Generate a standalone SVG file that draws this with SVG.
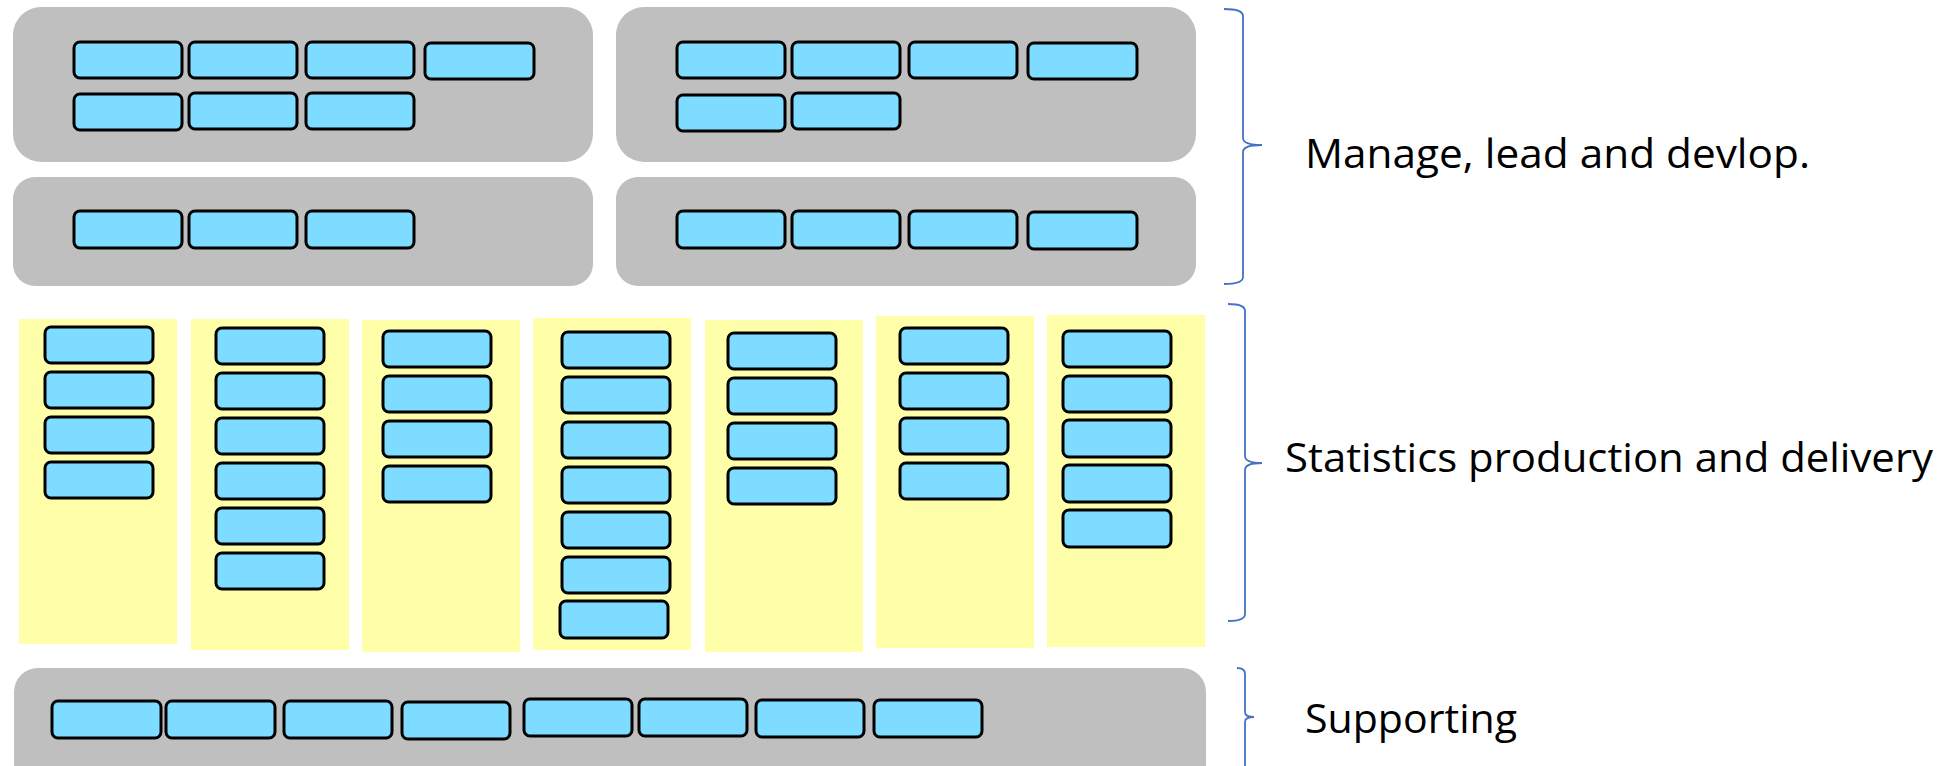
<svg xmlns="http://www.w3.org/2000/svg" width="1960" height="766" viewBox="0 0 1960 766">
<style>
.panel{fill:#BFBFBF}
.col{fill:#FFFFAA}
.box{fill:#7DDCFF;stroke:#000;stroke-width:3}
.brace{fill:none;stroke:#4472C4;stroke-width:1.8}
.lbl{font-family:"Open Sans","Noto Sans",sans-serif;font-size:41px;fill:#000}
</style>
<rect width="1960" height="766" fill="#fff"/>
<g id="panel-top-left">
<rect class="panel" x="13" y="7" width="580" height="155" rx="28"/>
<rect class="box" x="74" y="42" width="108" height="36" rx="6"/>
<rect class="box" x="189" y="42" width="108" height="36" rx="6"/>
<rect class="box" x="306" y="42" width="108" height="36" rx="6"/>
<rect class="box" x="425" y="43" width="109" height="36" rx="6"/>
<rect class="box" x="74" y="94" width="108" height="36" rx="6"/>
<rect class="box" x="189" y="93" width="108" height="36" rx="6"/>
<rect class="box" x="306" y="93" width="108" height="36" rx="6"/>
</g>
<g id="panel-mid-left">
<rect class="panel" x="13" y="177" width="580" height="109" rx="22"/>
<rect class="box" x="74" y="211" width="108" height="37" rx="6"/>
<rect class="box" x="189" y="211" width="108" height="37" rx="6"/>
<rect class="box" x="306" y="211" width="108" height="37" rx="6"/>
</g>
<g id="panel-top-right">
<rect class="panel" x="616" y="7" width="580" height="155" rx="28"/>
<rect class="box" x="677" y="42" width="108" height="36" rx="6"/>
<rect class="box" x="792" y="42" width="108" height="36" rx="6"/>
<rect class="box" x="909" y="42" width="108" height="36" rx="6"/>
<rect class="box" x="1028" y="43" width="109" height="36" rx="6"/>
<rect class="box" x="677" y="95" width="108" height="36" rx="6"/>
<rect class="box" x="792" y="93" width="108" height="36" rx="6"/>
</g>
<g id="panel-mid-right">
<rect class="panel" x="616" y="177" width="580" height="109" rx="22"/>
<rect class="box" x="677" y="211" width="108" height="37" rx="6"/>
<rect class="box" x="792" y="211" width="108" height="37" rx="6"/>
<rect class="box" x="909" y="211" width="108" height="37" rx="6"/>
<rect class="box" x="1028" y="212" width="109" height="37" rx="6"/>
</g>
<g id="col-1">
<rect class="col" x="19" y="319" width="158" height="325"/>
<rect class="box" x="45" y="327" width="108" height="36" rx="6"/>
<rect class="box" x="45" y="372" width="108" height="36" rx="6"/>
<rect class="box" x="45" y="417" width="108" height="36" rx="6"/>
<rect class="box" x="45" y="462" width="108" height="36" rx="6"/>
</g>
<g id="col-2">
<rect class="col" x="191" y="319" width="158" height="331"/>
<rect class="box" x="216" y="328" width="108" height="36" rx="6"/>
<rect class="box" x="216" y="373" width="108" height="36" rx="6"/>
<rect class="box" x="216" y="418" width="108" height="36" rx="6"/>
<rect class="box" x="216" y="463" width="108" height="36" rx="6"/>
<rect class="box" x="216" y="508" width="108" height="36" rx="6"/>
<rect class="box" x="216" y="553" width="108" height="36" rx="6"/>
</g>
<g id="col-3">
<rect class="col" x="362" y="320" width="158" height="332"/>
<rect class="box" x="383" y="331" width="108" height="36" rx="6"/>
<rect class="box" x="383" y="376" width="108" height="36" rx="6"/>
<rect class="box" x="383" y="421" width="108" height="36" rx="6"/>
<rect class="box" x="383" y="466" width="108" height="36" rx="6"/>
</g>
<g id="col-4">
<rect class="col" x="533" y="318" width="158" height="332"/>
<rect class="box" x="562" y="332" width="108" height="36" rx="6"/>
<rect class="box" x="562" y="377" width="108" height="36" rx="6"/>
<rect class="box" x="562" y="422" width="108" height="36" rx="6"/>
<rect class="box" x="562" y="467" width="108" height="36" rx="6"/>
<rect class="box" x="562" y="512" width="108" height="36" rx="6"/>
<rect class="box" x="562" y="557" width="108" height="36" rx="6"/>
<rect class="box" x="560" y="601" width="108" height="37" rx="6"/>
</g>
<g id="col-5">
<rect class="col" x="705" y="320" width="158" height="332"/>
<rect class="box" x="728" y="333" width="108" height="36" rx="6"/>
<rect class="box" x="728" y="378" width="108" height="36" rx="6"/>
<rect class="box" x="728" y="423" width="108" height="36" rx="6"/>
<rect class="box" x="728" y="468" width="108" height="36" rx="6"/>
</g>
<g id="col-6">
<rect class="col" x="876" y="316" width="158" height="332"/>
<rect class="box" x="900" y="328" width="108" height="36" rx="6"/>
<rect class="box" x="900" y="373" width="108" height="36" rx="6"/>
<rect class="box" x="900" y="418" width="108" height="36" rx="6"/>
<rect class="box" x="900" y="463" width="108" height="36" rx="6"/>
</g>
<g id="col-7">
<rect class="col" x="1047" y="315" width="158" height="332"/>
<rect class="box" x="1063" y="331" width="108" height="36" rx="6"/>
<rect class="box" x="1063" y="376" width="108" height="36" rx="6"/>
<rect class="box" x="1063" y="420" width="108" height="37" rx="6"/>
<rect class="box" x="1063" y="465" width="108" height="37" rx="6"/>
<rect class="box" x="1063" y="510" width="108" height="37" rx="6"/>
</g>
<g id="panel-bottom">
<rect class="panel" x="14" y="668" width="1192" height="130" rx="24"/>
<rect class="box" x="52" y="701" width="109" height="37" rx="6"/>
<rect class="box" x="166" y="701" width="109" height="37" rx="6"/>
<rect class="box" x="284" y="701" width="108" height="37" rx="6"/>
<rect class="box" x="402" y="702" width="108" height="37" rx="6"/>
<rect class="box" x="524" y="699" width="108" height="37" rx="6"/>
<rect class="box" x="639" y="699" width="108" height="37" rx="6"/>
<rect class="box" x="756" y="700" width="108" height="37" rx="6"/>
<rect class="box" x="874" y="700" width="108" height="37" rx="6"/>
</g>
<g id="connectors">
<path class="brace" d="M1224,9 Q1243,9 1243,16 L1243,138 Q1243,145 1262,145 Q1243,145 1243,152 L1243,277 Q1243,284 1224,284"/>
<path class="brace" d="M1228,304 Q1245,304 1245,311 L1245,456 Q1245,463 1262,463 Q1245,463 1245,470 L1245,614 Q1245,621 1228,621"/>
<path class="brace" d="M1237,668 Q1245,668 1245,674 L1245,712 Q1245,717 1254,717 Q1245,717 1245,722 L1245,770"/>
</g>
<g id="labels">
<text class="lbl" x="1305" y="168" textLength="505" lengthAdjust="spacingAndGlyphs">Manage, lead and devlop.</text>
<text class="lbl" x="1285" y="472" textLength="648" lengthAdjust="spacingAndGlyphs">Statistics production and delivery</text>
<text class="lbl" x="1305" y="733" textLength="212" lengthAdjust="spacingAndGlyphs">Supporting</text>
</g>
</svg>
